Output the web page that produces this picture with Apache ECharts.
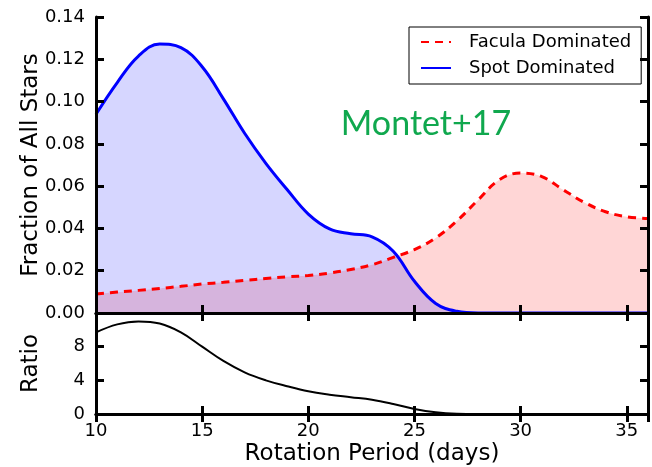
<!DOCTYPE html>
<html>
<head>
<meta charset="utf-8">
<script src="https://cdn.jsdelivr.net/npm/echarts@6/dist/echarts.min.js"></script>
<style>
  html, body { margin: 0; padding: 0; background: #fff; }
  #chart { width: 652px; height: 467px; }
</style>
</head>
<body>
<div id="chart"></div>
<script>
// rotation period grid (days)
var periods = [10, 11, 12, 13, 14, 15, 16, 17, 18, 19, 20, 21, 22, 23,
               24, 25, 26, 27, 28, 29, 30, 31, 32, 33, 34, 35, 36];

// fraction of all stars
var facula = [0.0090, 0.0099, 0.0107, 0.0116, 0.0126, 0.0137, 0.0145, 0.0154, 0.0163,
              0.0171, 0.0177, 0.0189, 0.0206, 0.0228, 0.0263, 0.0300, 0.0355, 0.0436,
              0.0535, 0.0630, 0.0662, 0.0645, 0.0583, 0.0523, 0.0479, 0.0455, 0.0447];
var spot = [0.0940, 0.1090, 0.1215, 0.1272, 0.1255, 0.1165, 0.1013, 0.0850, 0.0708,
            0.0584, 0.0468, 0.0398, 0.0375, 0.0360, 0.0292, 0.0150, 0.0045, 0.0008,
            0, 0, 0, 0, 0, 0, 0, 0, 0];
var ratio = [9.7, 10.65, 11.0, 10.75, 9.7, 8.0, 6.3, 4.95, 4.0, 3.3, 2.7, 2.3, 2.0,
             1.7, 1.2, 0.6, 0.2, 0.03, 0, 0, 0, 0, 0, 0, 0, 0, 0];

function pairs(xs, ys) {
    return xs.map(function (x, i) { return [x, ys[i]]; });
}

var chart = echarts.init(document.getElementById('chart'));

var frame = { lineStyle: { color: '#000', width: 3 } };
var tick = { inside: true, length: 8, lineStyle: { color: '#000', width: 3 } };
var font = 'DejaVu Sans';

function xAx(grid, pos, labels) {
    return {
        type: 'value', gridIndex: grid, position: pos,
        min: 10, max: 36, interval: 5, z: 5,
        axisLine: frame, axisTick: tick, splitLine: { show: false },
        axisLabel: {
            show: labels, color: '#000', fontSize: 18, fontFamily: font, margin: 8,
            showMaxLabel: false
        },
        name: labels ? 'Rotation Period (days)' : '',
        nameLocation: 'middle', nameGap: 29, nameMoveOverlap: false,
        nameTextStyle: { color: '#000', fontSize: 23, fontFamily: font }
    };
}

function yAx(grid, pos, opts) {
    var a = {
        type: 'value', gridIndex: grid, position: pos, z: 5,
        axisLine: frame, axisTick: tick, splitLine: { show: false },
        axisLabel: { show: false }
    };
    return Object.assign(a, opts);
}

option = {
    animation: false,
    textStyle: { fontFamily: font },
    grid: [
        { left: 96, right: 4, top: 17, height: 296 },
        { left: 96, right: 4, top: 313, height: 101 }
    ],
    legend: {
        data: ['Facula Dominated', 'Spot Dominated'],
        orient: 'vertical',
        left: 409, top: 27,
        padding: [6, 10, 7, 11],
        itemGap: 8, itemWidth: 30, itemHeight: 16,
        itemStyle: { opacity: 0 },
        backgroundColor: '#fff', borderColor: '#000', borderWidth: 1, borderRadius: 0,
        textStyle: { color: '#000', fontSize: 18, lineHeight: 16, fontFamily: font, padding: [0, 0, 0, 13] }
    },
    graphic: [{
        type: 'text', z: 10,
        x: 426, y: 124,
        style: {
            text: 'Montet+17', x: 0, y: 0,
            fill: '#10a84e', font: '34px Lato',
            align: 'center', verticalAlign: 'middle'
        }
    }],
    xAxis: [xAx(0, 'bottom', false), xAx(0, 'top', false), xAx(1, 'bottom', true), xAx(1, 'top', false)],
    yAxis: [
        yAx(0, 'left', {
            min: 0, max: 0.14, interval: 0.02,
            axisLabel: {
                show: true, color: '#000', fontSize: 18, fontFamily: font, margin: 11,
                formatter: function (v) { return v.toFixed(2); }
            },
            name: 'Fraction of All Stars', nameLocation: 'middle', nameGap: 53,
            nameMoveOverlap: false,
            nameTextStyle: { color: '#000', fontSize: 23, fontFamily: font }
        }),
        yAx(0, 'right', { min: 0, max: 0.14, interval: 0.02 }),
        yAx(1, 'left', {
            min: 0, max: 12, interval: 4,
            axisLabel: {
                show: true, color: '#000', fontSize: 18, fontFamily: font, margin: 11,
                showMaxLabel: false
            },
            name: 'Ratio', nameLocation: 'middle', nameGap: 53,
            nameMoveOverlap: false,
            nameTextStyle: { color: '#000', fontSize: 23, fontFamily: font }
        }),
        yAx(1, 'right', { min: 0, max: 12, interval: 4 })
    ],
    series: [
        {
            name: 'Facula Dominated', type: 'line', xAxisIndex: 0, yAxisIndex: 0,
            data: pairs(periods, facula), smooth: 0.4, symbol: 'none',
            lineStyle: { color: '#ff0000', width: 3, type: [8, 6] },
            itemStyle: { color: '#ff0000' },
            areaStyle: { color: 'rgba(255,0,0,0.16)', opacity: 1 }
        },
        {
            name: 'Spot Dominated', type: 'line', xAxisIndex: 0, yAxisIndex: 0,
            data: pairs(periods, spot), smooth: 0.4, symbol: 'none',
            lineStyle: { color: '#0000ff', width: 3 },
            itemStyle: { color: '#0000ff' },
            areaStyle: { color: 'rgba(0,0,255,0.16)', opacity: 1 }
        },
        {
            name: 'Ratio', type: 'line', xAxisIndex: 2, yAxisIndex: 2,
            data: pairs(periods, ratio), smooth: 0.4, symbol: 'none',
            lineStyle: { color: '#000', width: 2 },
            itemStyle: { color: '#000' }
        }
    ]
};

chart.setOption(option);

window.addEventListener('resize', function () {
    chart.resize();
});
</script>
</body>
</html>
